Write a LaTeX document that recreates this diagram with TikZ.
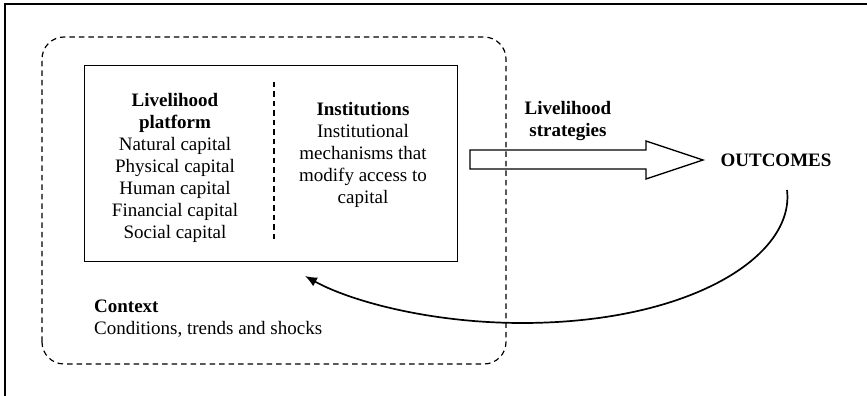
\documentclass[tikz,border=0pt]{standalone}
\usepackage{fontspec}
\setmainfont{Liberation Serif}
\usetikzlibrary{arrows.meta}
\begin{document}
\begin{tikzpicture}[x=1pt,y=1pt,
  txt/.style={font=\fontsize{19}{22}\selectfont, align=center, inner sep=0pt},
  dashline/.style={dash pattern=on 5.5pt off 4pt, line width=1.2pt},
  solidbox/.style={draw, line width=1.4pt}]
\useasboundingbox (0,0) rectangle (867,396);
% outer frame (left and top)
\draw[line width=1.6pt] (5,0) -- (5,392) -- (867,392);
% context dashed region
\draw[dashline, rounded corners=22pt] (42,32) rectangle (506,359);
% inner box
\node[solidbox, minimum width=373pt, minimum height=196pt, anchor=south west, inner sep=0pt] (box) at (84,134) {};
\coordinate (divtop) at (274,314);
\coordinate (divbot) at (274,153);
\draw[dashline] (divtop) -- (divbot);
% texts
\node[txt] (platform) at (175,228.5) {\textbf{Livelihood}\\\textbf{platform}\\Natural capital\\Physical capital\\Human capital\\Financial capital\\Social capital};
\node[txt] (inst) at (363,241.5) {\textbf{Institutions}\\Institutional\\mechanisms that\\modify access to\\capital};
\node[txt] (strat) at (568,274.5) {\textbf{Livelihood}\\\textbf{strategies}};
\node[txt, font=\fontsize{19}{22}\selectfont\bfseries] (out) at (776,236) {OUTCOMES};
\node[txt, align=left, anchor=west] (context) at (94,77) {\textbf{Context}\\Conditions, trends and shocks};
% block arrow
\draw[line width=1.3pt, line join=miter] (470,246) -- (646,246) -- (646,255) -- (703,236) -- (646,217) -- (646,227) -- (470,227) -- cycle;
% feedback curve
\coordinate (cstart) at (787,206);
\coordinate (cmid) at (522,73);
\coordinate (cend) at (305,120);
\draw[line width=1.7pt, -{Latex[length=12pt,width=10pt]}] (cstart) .. controls (795,140) and (690,73) .. (cmid) .. controls (430,73) and (350,95) .. (cend);
\end{tikzpicture}
\end{document}
